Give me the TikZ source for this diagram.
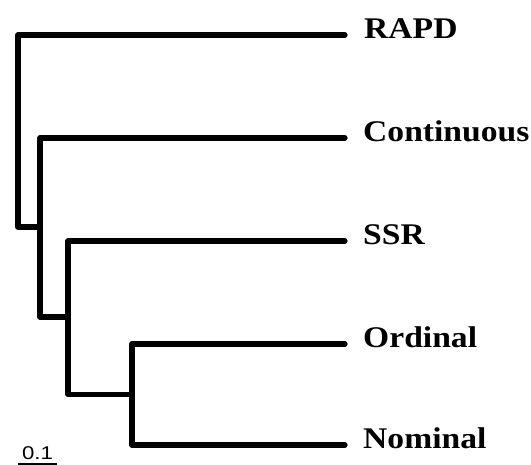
\documentclass[tikz,border=0pt]{standalone}
\usepackage{fontspec}
\setmainfont{Liberation Serif}
\newfontfamily\scalefont{Liberation Sans}
\begin{document}
\begin{tikzpicture}[x=1pt,y=-1pt,
  branch/.style={line width=5.2pt,line join=round,line cap=round},
  taxon/.style={anchor=base west,inner sep=0pt,font=\fontsize{30}{30}\selectfont\bfseries,xscale=1.12},
  scaletext/.style={anchor=base,inner sep=0pt,font=\scalefont\fontsize{18.5}{18.5}\selectfont,xscale=1.2}]
\useasboundingbox (0,0) rectangle (531,465);
% leaves
\coordinate (lRAPD) at (345,35);
\coordinate (lCont) at (345,138);
\coordinate (lSSR) at (345,241);
\coordinate (lOrd) at (345,344);
\coordinate (lNom) at (345,445);
% internal nodes
\coordinate (n4) at (132,394.5);
\coordinate (n3) at (68,317);
\coordinate (n2) at (40,227);
\coordinate (n1) at (18,131);
% branches
\draw[branch] (lRAPD) -| (n1) |- (n2);
\draw[branch] (lCont) -| (n2) |- (n3);
\draw[branch] (lSSR) -| (n3) |- (n4);
\draw[branch] (lOrd) -| (n4) |- (lNom);
% labels
\node[taxon] (tRAPD) at (364,39) {RAPD};
\node[taxon] (tCont) at (363,142) {Continuous};
\node[taxon] (tSSR) at (363,245) {SSR};
\node[taxon] (tOrd) at (363,348) {Ordinal};
\node[taxon] (tNom) at (363,449) {Nominal};
% scale bar
\node[scaletext] (sc) at (37.5,460) {0.1};
\coordinate (sbL) at (18,463.8);
\coordinate (sbR) at (57,463.8);
\draw[line width=1.8pt] (sbL) -- (sbR);
\end{tikzpicture}
\end{document}
